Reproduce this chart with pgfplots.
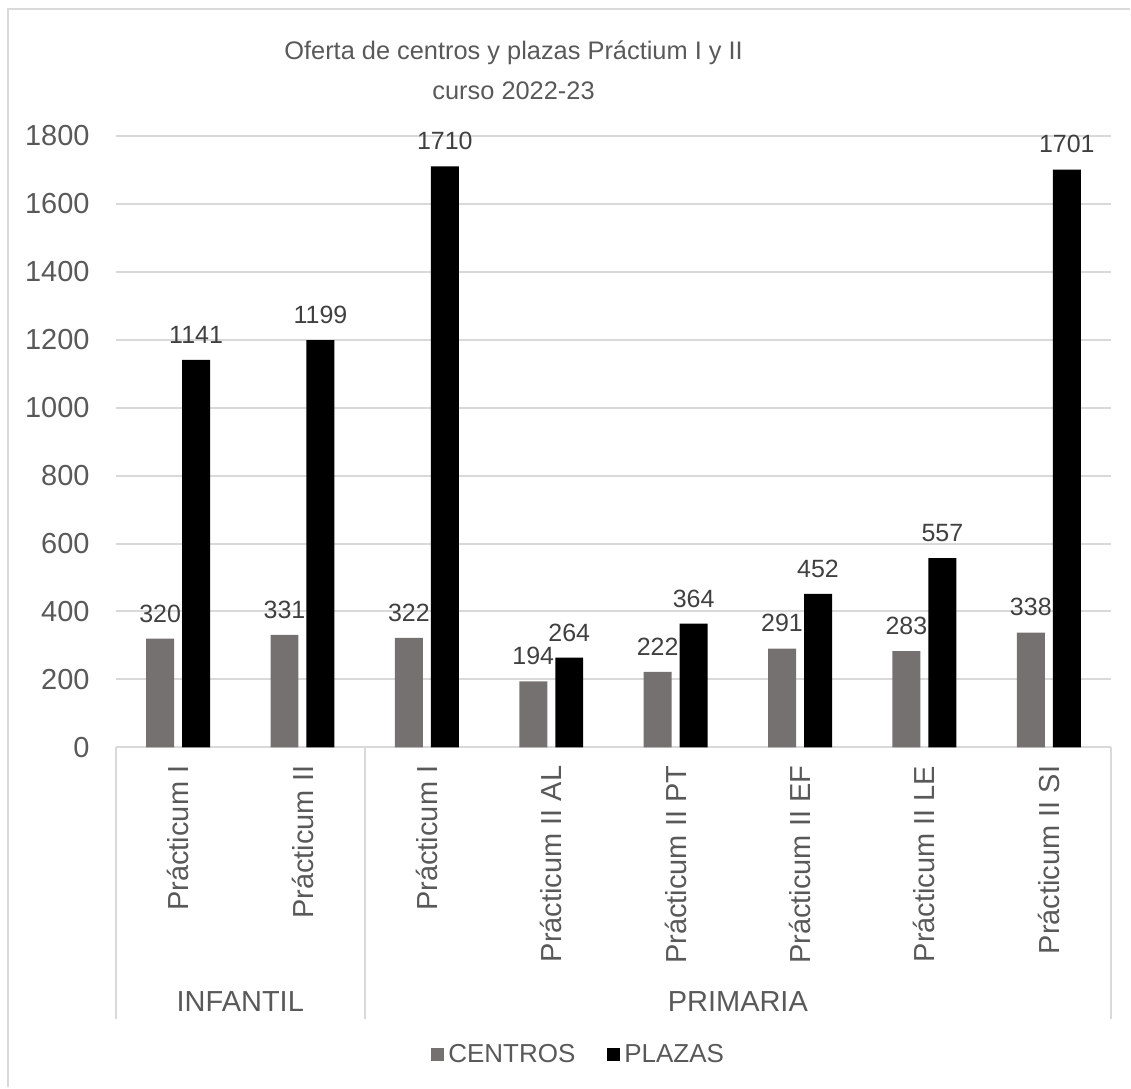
\documentclass[border=0pt]{standalone}
\usepackage{pgfplots}
\pgfplotsset{compat=1.18}
\usepackage{fontspec}
\setmainfont{Liberation Sans}
\definecolor{barg}{HTML}{767171}
\definecolor{txtg}{HTML}{595959}
\definecolor{lblg}{HTML}{404040}
\definecolor{gridg}{HTML}{D9D9D9}
\begin{document}
\begin{tikzpicture}
\path (0,0) rectangle (565.5pt,-544pt);
\begin{axis}[
  scale only axis, width=498pt, height=306pt,
  at={(58pt,-374pt)}, anchor=south west,
  xmin=0.5, xmax=8.5, ymin=0, ymax=1800,
  ytick={0,200,...,1800},
  xtick={1,...,8},
  xticklabels={Prácticum I,Prácticum II,Prácticum I,Prácticum II AL,Prácticum II PT,Prácticum II EF,Prácticum II LE,Prácticum II SI},
  xticklabel style={rotate=90, anchor=east, inner sep=0pt, font=\fontsize{14.5pt}{17pt}\selectfont, text=txtg},
  xticklabel shift=9pt,
  yticklabel style={anchor=east, inner sep=0pt, font=\fontsize{14.5pt}{17pt}\selectfont, text=txtg},
  yticklabel shift=13pt,
  /pgf/number format/assume math mode=true,
  /pgf/number format/1000 sep={},
  major tick length=0pt,
  axis line style={draw=none},
  ymajorgrids, grid style={color=gridg, line width=1pt},
  ybar, bar width=14pt,
  nodes near coords,
  every node near coord/.append style={font=\fontsize{12.5pt}{14pt}\selectfont, text=lblg, anchor=south, inner sep=0pt, yshift=8pt, /pgf/number format/1000 sep={}},
  clip=false,
  legend style={at={(0.466,-0.503)}, anchor=center, draw=none, legend columns=2,
    font=\fontsize{13pt}{15pt}\selectfont, text=txtg,
    /tikz/every even column/.append style={column sep=14pt}},
  legend image code/.code={\fill[#1] (0pt,-3.25pt) rectangle (6.5pt,3.25pt);},
]
\addplot[fill=barg, draw=none, bar shift=-9pt] coordinates {(1,320) (2,331) (3,322) (4,194) (5,222) (6,291) (7,283) (8,338)};
\addplot[fill=black, draw=none, bar shift=9pt] coordinates {(1,1141) (2,1199) (3,1710) (4,264) (5,364) (6,452) (7,557) (8,1701)};
\legend{CENTROS,PLAZAS}
\end{axis}
\begin{scope}[x=0.5pt,y=-0.5pt]
\draw[gridg, line width=1pt] (8,1088) -- (8,9) -- (1131,9);
\draw[gridg, line width=1pt] (116,748) -- (116,1020) (365,748) -- (365,1020) (1112,748) -- (1112,1020);
\node[text=txtg, font=\fontsize{12.7pt}{20pt}\selectfont, align=center] at (514,70) {Oferta de centros y plazas Práctium I y II\\curso 2022-23};
\node[text=txtg, font=\fontsize{14.5pt}{17pt}\selectfont] at (240.5,1002) {INFANTIL};
\node[text=txtg, font=\fontsize{14.5pt}{17pt}\selectfont] at (738.5,1002) {PRIMARIA};
\end{scope}
\end{tikzpicture}
\end{document}
